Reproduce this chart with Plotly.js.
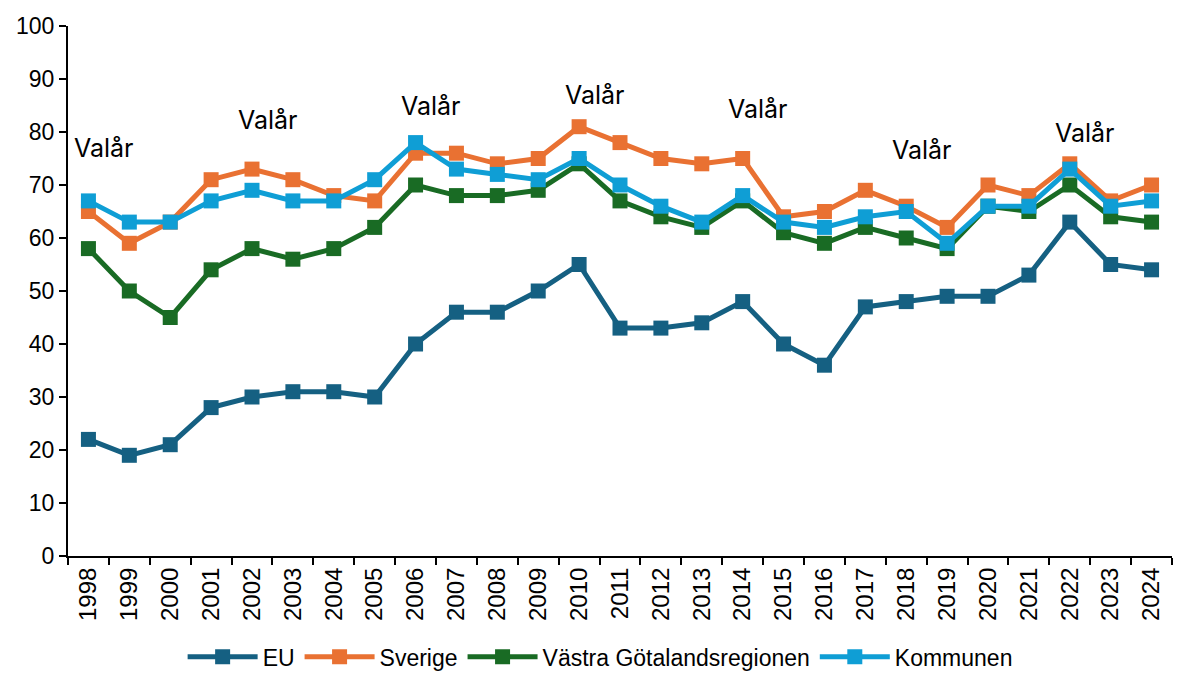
<!DOCTYPE html>
<html><head><meta charset="utf-8">
<script src="https://cdn.plot.ly/plotly-3.0.1.min.js"></script>
<style>html,body{margin:0;padding:0;background:#fff}#chart{width:1190px;height:673px}</style>
</head><body><div id="chart"></div>
<script>
const years = ["1998","1999","2000","2001","2002","2003","2004","2005","2006","2007","2008","2009","2010","2011","2012","2013","2014","2015","2016","2017","2018","2019","2020","2021","2022","2023","2024"];
const eu = [22,19,21,28,30,31,31,30,40,46,46,50,55,43,43,44,48,40,36,47,48,49,49,53,63,55,54];
const sverige = [65,59,63,71,73,71,68,67,76,76,74,75,81,78,75,74,75,64,65,69,66,62,70,68,74,67,70];
const vgr = [58,50,45,54,58,56,58,62,70,68,68,69,74,67,64,62,67,61,59,62,60,58,66,65,70,64,63];
const kommunen = [67,63,63,67,69,67,67,71,78,73,72,71,75,70,66,63,68,63,62,64,65,59,66,66,73,66,67];
const seriesNames = ["EU","Sverige","Västra Götalandsregionen","Kommunen"];
const colors = ["#156082","#E97132","#196B24","#0F9ED5"];
const valarYears = ["1998","2002","2006","2010","2014","2018","2022"];
const valarLevels = [77,82.3,85,87,84.3,76.6,79.8];
const valarText = "Valår";

const allSeries = [eu, sverige, vgr, kommunen];
const traces = allSeries.map((s,i)=>({
  x: years, y: s, name: seriesNames[i], type:"scatter", mode:"lines+markers",
  line:{color:colors[i], width:5},
  marker:{symbol:"square", size:15, color:colors[i]},
  cliponaxis:false
}));

const annotations = [];
valarYears.forEach((yr,i)=>{
  annotations.push({x: years.indexOf(yr)+0.38, y: valarLevels[i], xref:"x", yref:"y",
    text: valarText, showarrow:false, font:{family:"Inter, 'Noto Sans', sans-serif", size:25, color:"#000"}});
});
allSeries.forEach((s,i)=>{
  annotations.push({x: years[years.length-1], y: s[s.length-1], xref:"x", yref:"y",
    text: String(s[s.length-1]), showarrow:false, xanchor:"left", xshift:12,
    font:{family:"Liberation Sans, Arial, sans-serif", size:21, color:"#404040"}});
});

const layout = {
  width:1190, height:673,
  margin:{l:68, r:18, t:26, b:117, autoexpand:false},
  paper_bgcolor:"#fff", plot_bgcolor:"#fff",
  font:{family:"Liberation Sans, Arial, sans-serif", size:20, color:"#000"},
  showlegend:true,
  legend:{orientation:"h", x:0.482, xanchor:"center", y:-0.19, yanchor:"middle",
    font:{size:23, color:"#000"}, traceorder:"normal", itemwidth:70},
  xaxis:{type:"category", tickson:"boundaries", ticks:"outside", ticklen:7, tickwidth:2, tickcolor:"#000",
    showline:true, linecolor:"#000", linewidth:2, showgrid:false, tickangle:-90, automargin:false,
    tickfont:{size:24, color:"#000"}, range:[-0.5, years.length-0.5], zeroline:false},
  yaxis:{range:[0,100], dtick:10, ticks:"outside", ticklen:7, tickwidth:2, tickcolor:"#000", automargin:false,
    showline:true, linecolor:"#000", linewidth:2, showgrid:false, zeroline:false,
    tickfont:{size:23, color:"#000"}},
  annotations: annotations
};
Plotly.newPlot("chart", traces, layout, {displayModeBar:false, staticPlot:true});
</script></body></html>
